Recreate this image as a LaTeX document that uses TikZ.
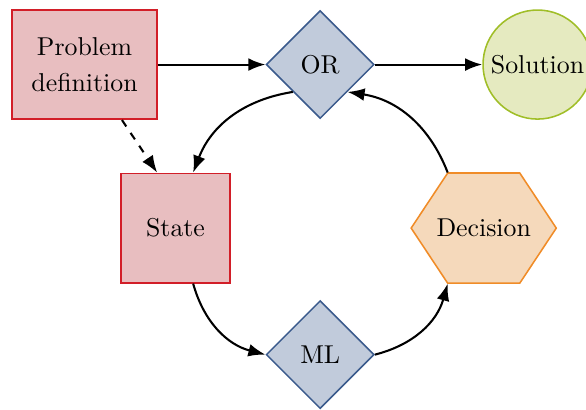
\documentclass[tikz,border=0pt]{standalone}
\usetikzlibrary{shapes.geometric,arrows.meta}

\definecolor{boxfill}{RGB}{232,190,192}
\definecolor{boxdraw}{RGB}{210,30,40}
\definecolor{diafill}{RGB}{193,203,219}
\definecolor{diadraw}{RGB}{58,90,140}
\definecolor{solfill}{RGB}{229,234,192}
\definecolor{soldraw}{RGB}{160,190,40}
\definecolor{decfill}{RGB}{245,217,187}
\definecolor{decdraw}{RGB}{240,140,40}

\begin{document}
\begin{tikzpicture}[>=Latex,
		redbox/.style={rectangle, semithick, draw=boxdraw, fill=boxfill, align=center},
		choice/.style={diamond, semithick, draw=diadraw, fill=diafill, minimum size=1.47cm, inner sep=0pt},
		endpoint/.style={circle, semithick, draw=soldraw, fill=solfill, minimum size=1.485cm, inner sep=1pt},
		hexa/.style={rectangle, minimum width=1.976cm, minimum height=1.5cm, inner sep=0pt}]
			\useasboundingbox (0,0) rectangle (7.98,5.572);
			
			% hexagon behind the decision node
			\coordinate (deccen) at (6.587,2.466);
			\filldraw[semithick, draw=decdraw, fill=decfill] ([xshift=-0.988cm]deccen) -- ++(0.497,0.75) -- ++(0.982,0) -- ++(0.497,-0.75) -- ++(-0.497,-0.75) -- ++(-0.982,0) -- cycle;
			
			\node[redbox, minimum width=1.98cm, minimum height=1.49cm] (prob) at (1.151,4.693) {Problem\\[2pt]definition};
			\node[choice] (or) at (4.36,4.693) {OR};
			\node[endpoint] (sol) at (7.32,4.693) {Solution};
			\node[redbox, minimum size=1.49cm] (st) at (2.39,2.466) {State};
			\node[hexa] (dec) at (deccen) {Decision};
			\node[choice] (ml) at (4.36,0.743) {ML};
			
			\draw[thick, ->] (prob) -- (or);
			\draw[thick, ->] (or) -- (sol);
			\draw[thick, dashed, ->] ([xshift=0.51cm]prob.south) -- ([xshift=-0.25cm]st.north);
			
			\draw[thick, ->] (or.south west) to[bend right=30] ([xshift=0.24cm]st.north);
			\draw[thick, ->] ([xshift=0.24cm]st.south) to[bend right=30] (ml.west);
			\draw[thick, ->] (ml.east) to[bend right=30] ([xshift=-0.491cm]dec.south);
			\draw[thick, ->] ([xshift=-0.491cm]dec.north) to[bend right=30] (or.south east);
			
	\end{tikzpicture}
\end{document}
